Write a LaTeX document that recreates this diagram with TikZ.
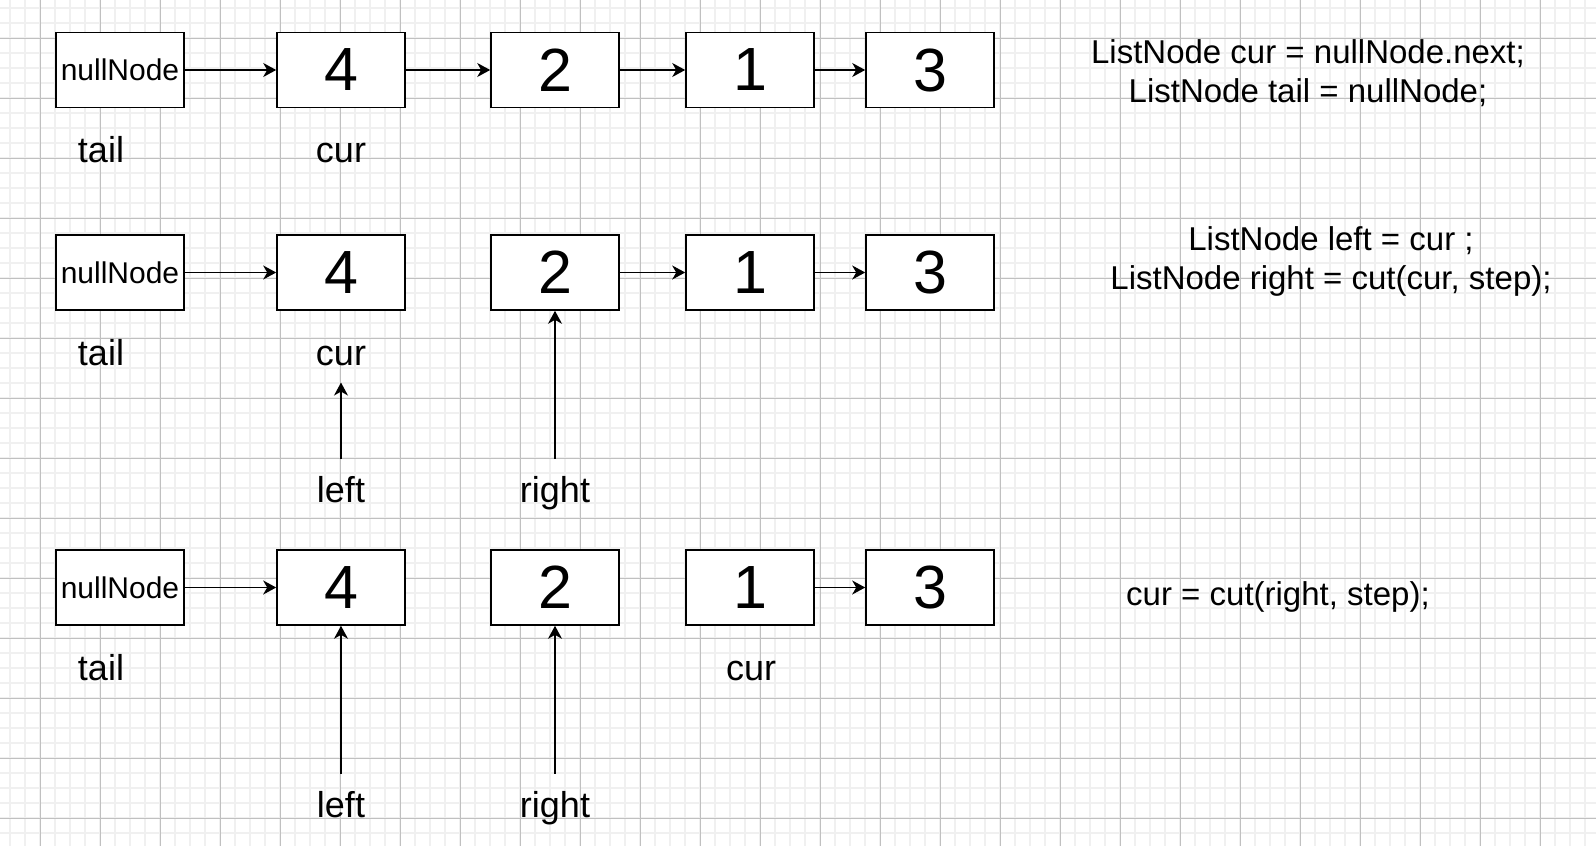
\documentclass[tikz,border=0pt]{standalone}
\usepackage{fontspec}
\setmainfont{Liberation Sans}
\usetikzlibrary{arrows.meta}
\definecolor{gridmajor}{HTML}{C0C0C0}
\definecolor{gridminor}{HTML}{F0F0F0}
\tikzstyle{listnode} = [rectangle, minimum width=128pt, minimum height=75pt, inner sep=0pt, draw=black, fill=white, line width=1.6pt, font=\fontsize{61}{61}\selectfont]
\tikzstyle{headnode} = [listnode, font=\fontsize{30}{30}\selectfont]
\tikzstyle{pointer} = [anchor=base, inner sep=17pt, font=\fontsize{36}{36}\selectfont]
\tikzstyle{code} = [align=center, font=\fontsize{33}{39}\selectfont]
\tikzstyle{arrow} = [line width=1.5pt,->,>={Stealth[length=13pt,width=14pt,inset=4pt]}]

\begin{document}
\begin{tikzpicture}[x=1pt, y=-1pt, node distance=180pt]
			\useasboundingbox (0,0) rectangle (1596,846);
			\fill[white] (0,0) rectangle (1596,846);
			\foreach \gx in {10,25,...,1585} \draw[gridminor, line width=1.5pt] (\gx,0) -- (\gx,846);
			\foreach \gy in {8,23,...,833} \draw[gridminor, line width=1.5pt] (0,\gy) -- (1596,\gy);
			\foreach \gx in {40,100,...,1540} \draw[gridmajor, line width=1pt] (\gx,0) -- (\gx,846);
			\foreach \gy in {38,98,...,818} \draw[gridmajor, line width=1pt] (0,\gy) -- (1596,\gy);
			
			\node[headnode] (null1) at (120,70) {nullNode};
			\node[listnode, right of=null1, xshift=41] (four1) {4};
			\node[listnode, right of=four1, xshift=34] (two1) {2};
			\node[listnode, right of=two1, xshift=15] (one1) {1};
			\node[listnode, right of=one1] (three1) {3};
			\node[pointer] (tail1) at (101,162) {tail};
			\node[pointer] (cur1) at (341,162) {cur};
			\node[code] (init) at (1308,73) {ListNode cur = nullNode.next;\\ListNode tail = nullNode;};
			
			\draw [arrow] (null1) -- (four1);
			\draw [arrow] (four1) -- (two1);
			\draw [arrow] (two1) -- (one1);
			\draw [arrow] (one1) -- (three1);
			
			\node[headnode] (null2) at (120,272.5) {nullNode};
			\node[listnode, right of=null2, xshift=41] (four2) {4};
			\node[listnode, right of=four2, xshift=34] (two2) {2};
			\node[listnode, right of=two2, xshift=15] (one2) {1};
			\node[listnode, right of=one2] (three2) {3};
			\node[pointer] (tail2) at (101,365) {tail};
			\node[pointer] (cur2) at (341,365) {cur};
			\node[pointer] (left2) at (341,502) {left};
			\node[pointer] (right2) at (555,502) {right};
			\node[code] (split) at (1331,261.5) {ListNode left = cur ;\\ListNode right = cut(cur, step);};
			
			\draw [arrow] (null2) -- (four2);
			\draw [arrow] (two2) -- (one2);
			\draw [arrow] (one2) -- (three2);
			\draw [arrow] (left2) -- (cur2);
			\draw [arrow] (right2) -- (two2);
			
			\node[headnode] (null3) at (120,587.5) {nullNode};
			\node[listnode, right of=null3, xshift=41] (four3) {4};
			\node[listnode, right of=four3, xshift=34] (two3) {2};
			\node[listnode, right of=two3, xshift=15] (one3) {1};
			\node[listnode, right of=one3] (three3) {3};
			\node[pointer] (tail3) at (101,680) {tail};
			\node[pointer] (cur3) at (751,680) {cur};
			\node[pointer] (left3) at (341,817) {left};
			\node[pointer] (right3) at (555,817) {right};
			\node[code, anchor=base] (next) at (1278,605) {cur = cut(right, step);};
			
			\draw [arrow] (null3) -- (four3);
			\draw [arrow] (one3) -- (three3);
			\draw [arrow] (left3) -- (four3);
			\draw [arrow] (right3) -- (two3);
			
		\end{tikzpicture}
\end{document}
